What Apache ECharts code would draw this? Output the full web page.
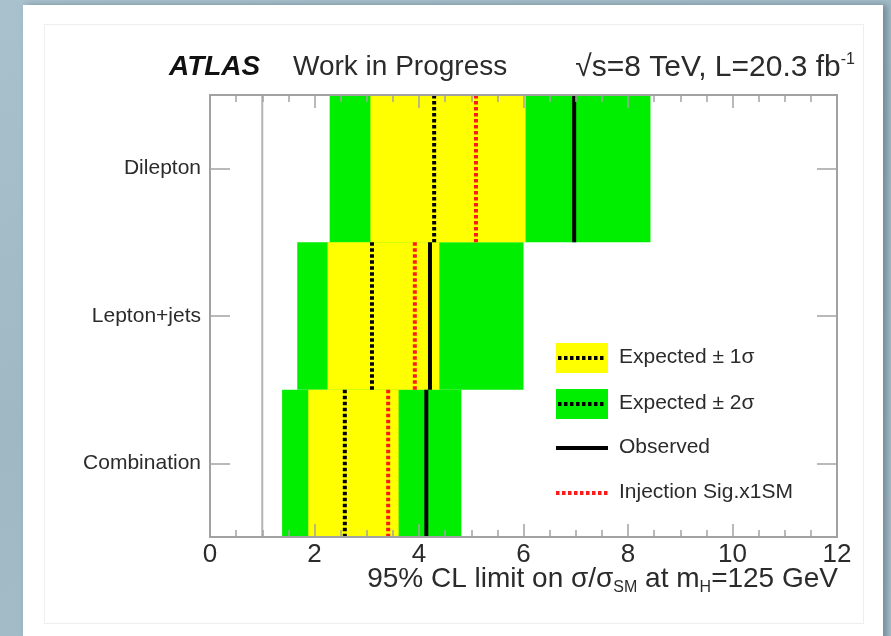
<!DOCTYPE html>
<html>
<head>
<meta charset="utf-8">
<script src="https://cdn.jsdelivr.net/npm/echarts@6/dist/echarts.min.js"></script>
<style>
  html, body { margin: 0; padding: 0; }
  body {
    width: 891px; height: 636px; overflow: hidden; position: relative;
    background: linear-gradient(160deg, #a9c1cc 0%, #9fb8c4 45%, #a7bfca 100%);
  }
  #panel {
    position: absolute; left: 23px; top: 5px; width: 860px; height: 650px;
    background: #fff; box-shadow: 4px 0 6px rgba(60, 80, 95, 0.45);
  }
  #inner {
    position: absolute; left: 44px; top: 24px; width: 818px; height: 598px;
    border: 1px solid #eeeeee;
  }
  #chart { position: absolute; left: 0; top: 0; width: 891px; height: 636px; }
</style>
</head>
<body>
<div id="panel"></div>
<div id="inner"></div>
<div id="chart"></div>
<script>
// Channels, top to bottom
const categories = ['Dilepton', 'Lepton+jets', 'Combination'];
// Expected limit bands (95% CL on sigma/sigma_SM)
const minus2 = [2.29, 1.67, 1.38];
const minus1 = [3.07, 2.25, 1.88];
const plus1 = [6.04, 4.39, 3.61];
const plus2 = [8.43, 6.00, 4.81];
// Median expected, observed and signal-injected limits
const expected = [4.29, 3.10, 2.58];
const observed = [6.97, 4.21, 4.14];
const injection = [5.09, 3.92, 3.41];
// Reference at sigma/sigma_SM = 1
const referenceLine = [1];
// X-axis range and ticks
const xMin = 0, xMax = 12, xStep = 2;

const FONT = 'Arial, "Liberation Sans", Helvetica, sans-serif';
const FRAME = '#a2a2a2';
const TEXT = '#2b2b2b';

function bandData(lo, hi) {
  return categories.map((c, i) => [lo[i], hi[i], i]);
}
function lineData(vals) {
  return categories.map((c, i) => [vals[i], i]);
}

function bandRenderer(fill) {
  return function (params, api) {
    const a = api.coord([api.value(0), api.value(2)]);
    const b = api.coord([api.value(1), api.value(2)]);
    const h = api.size([0, 1])[1];
    return {
      type: 'rect',
      shape: { x: a[0], y: a[1] - h / 2, width: b[0] - a[0], height: h },
      style: { fill: fill }
    };
  };
}
function lineRenderer(stroke, width, dash) {
  return function (params, api) {
    const p = api.coord([api.value(0), api.value(1)]);
    const h = api.size([0, 1])[1];
    return {
      type: 'line',
      shape: { x1: p[0], y1: p[1] - h / 2, x2: p[0], y2: p[1] + h / 2 },
      style: { stroke: stroke, lineWidth: width, lineDash: dash, lineCap: 'butt' }
    };
  };
}

const chart = echarts.init(document.getElementById('chart'), null, { renderer: 'canvas' });

const legendX = 556, legendW = 52, legendTextX = 619;
const frameLine = { show: true, onZero: false, lineStyle: { color: FRAME, width: 2 } };

chart.setOption({
  backgroundColor: 'transparent',
  animation: false,
  grid: { left: 210, right: 54, top: 95, bottom: 99, containLabel: false, outerBoundsMode: 'none' },
  xAxis: [
    {
      type: 'value', position: 'bottom', min: xMin, max: xMax, interval: xStep, z: 10,
      axisLine: frameLine,
      axisTick: { show: true, inside: true, length: 13, lineStyle: { color: FRAME, width: 1.5 } },
      minorTick: { show: true, splitNumber: 4, length: 7, lineStyle: { color: FRAME, width: 1.5 } },
      splitLine: { show: false },
      axisLabel: { fontFamily: FONT, fontSize: 26, color: TEXT, margin: 5 }
    },
    {
      type: 'value', position: 'top', min: xMin, max: xMax, interval: xStep, z: 10,
      axisLine: frameLine,
      axisTick: { show: true, inside: true, length: 13, lineStyle: { color: FRAME, width: 1.5 } },
      minorTick: { show: true, splitNumber: 4, length: 7, lineStyle: { color: FRAME, width: 1.5 } },
      splitLine: { show: false },
      axisLabel: { show: false }
    }
  ],
  yAxis: [
    {
      type: 'category', data: categories, inverse: true, position: 'left', z: 10,
      axisLine: frameLine,
      axisTick: { show: true, inside: true, alignWithLabel: true, length: 20, lineStyle: { color: FRAME, width: 1.5 } },
      axisLabel: { fontFamily: FONT, fontSize: 21, color: TEXT, margin: 9 },
      splitLine: { show: false }
    },
    {
      type: 'category', data: categories, inverse: true, position: 'right', z: 10,
      axisLine: frameLine,
      axisTick: { show: true, inside: true, alignWithLabel: true, length: 20, lineStyle: { color: FRAME, width: 1.5 } },
      axisLabel: { show: false },
      splitLine: { show: false }
    }
  ],
  series: [
    {
      name: 'reference', type: 'custom', z: 1,
      data: referenceLine.map(v => [v]),
      encode: { x: 0 },
      renderItem: function (params, api) {
        const x = api.coord([api.value(0), 0])[0];
        const cs = params.coordSys;
        return {
          type: 'line',
          shape: { x1: x, y1: cs.y, x2: x, y2: cs.y + cs.height },
          style: { stroke: '#b4b4b4', lineWidth: 2 }
        };
      }
    },
    {
      name: 'Expected ± 2σ', type: 'custom', z: 2,
      data: bandData(minus2, plus2), encode: { x: [0, 1], y: 2 },
      renderItem: bandRenderer('#00ee00')
    },
    {
      name: 'Expected ± 1σ', type: 'custom', z: 3,
      data: bandData(minus1, plus1), encode: { x: [0, 1], y: 2 },
      renderItem: bandRenderer('#ffff00')
    },
    {
      name: 'Expected', type: 'custom', z: 4,
      data: lineData(expected), encode: { x: 0, y: 1 },
      renderItem: lineRenderer('#000000', 4, [3.5, 2.5])
    },
    {
      name: 'Injection Sig.x1SM', type: 'custom', z: 4,
      data: lineData(injection), encode: { x: 0, y: 1 },
      renderItem: lineRenderer('#ff1a1a', 4, [3.5, 2.5])
    },
    {
      name: 'Observed', type: 'custom', z: 5,
      data: lineData(observed), encode: { x: 0, y: 1 },
      renderItem: lineRenderer('#000000', 4, null)
    }
  ],
  graphic: [
    // Header
    { type: 'text', left: 169, top: 53, style: { text: 'ATLAS', fontFamily: FONT, fontSize: 28, fontWeight: 'bold', fontStyle: 'italic', fill: '#111' } },
    { type: 'text', left: 293, top: 53, style: { text: 'Work in Progress', fontFamily: FONT, fontSize: 28, fill: TEXT } },
    {
      type: 'text', right: 36, top: 52,
      style: {
        text: '√s=8 TeV, L=20.3 fb{sup|-1}', fontFamily: FONT, fontSize: 30, fill: TEXT,
        rich: { sup: { fontFamily: FONT, fontSize: 16, fill: TEXT, verticalAlign: 'top', padding: [0, 0, 15, 0] } }
      }
    },
    // Axis title
    {
      type: 'text', right: 53, top: 565,
      style: {
        text: '95% CL limit on σ/σ{sub|SM} at m{sub|H}=125 GeV', fontFamily: FONT, fontSize: 28, fill: TEXT,
        rich: { sub: { fontFamily: FONT, fontSize: 16, fill: TEXT, verticalAlign: 'bottom', padding: [17, 0, 0, 0] } }
      }
    },
    // Key
    { type: 'rect', shape: { x: legendX, y: 343, width: legendW, height: 30 }, style: { fill: '#ffff00' } },
    { type: 'line', shape: { x1: legendX + 2, y1: 358, x2: legendX + legendW - 2, y2: 358 }, style: { stroke: '#000', lineWidth: 4, lineDash: [3.5, 2.5] } },
    { type: 'rect', shape: { x: legendX, y: 389, width: legendW, height: 30 }, style: { fill: '#00ee00' } },
    { type: 'line', shape: { x1: legendX + 2, y1: 404, x2: legendX + legendW - 2, y2: 404 }, style: { stroke: '#000', lineWidth: 4, lineDash: [3.5, 2.5] } },
    { type: 'line', shape: { x1: legendX, y1: 448, x2: legendX + legendW, y2: 448 }, style: { stroke: '#000', lineWidth: 4 } },
    { type: 'line', shape: { x1: legendX, y1: 493, x2: legendX + legendW, y2: 493 }, style: { stroke: '#ff1a1a', lineWidth: 4, lineDash: [3.5, 2.5] } },
    { type: 'text', left: legendTextX, top: 347, style: { text: 'Expected ± 1σ', fontFamily: FONT, fontSize: 21, fill: TEXT } },
    { type: 'text', left: legendTextX, top: 393, style: { text: 'Expected ± 2σ', fontFamily: FONT, fontSize: 21, fill: TEXT } },
    { type: 'text', left: legendTextX, top: 437, style: { text: 'Observed', fontFamily: FONT, fontSize: 21, fill: TEXT } },
    { type: 'text', left: legendTextX, top: 482, style: { text: 'Injection Sig.x1SM', fontFamily: FONT, fontSize: 21, fill: TEXT } }
  ]
});
</script>
</body>
</html>
